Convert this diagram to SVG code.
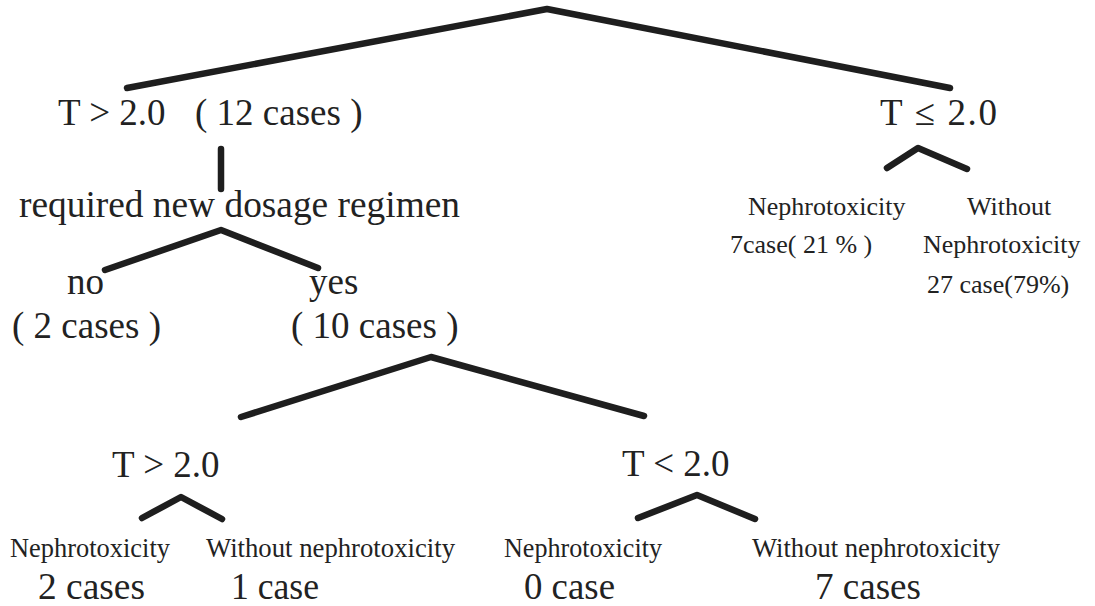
<svg xmlns="http://www.w3.org/2000/svg" width="1095" height="606" viewBox="0 0 1095 606">
  <style>
    .t { font-family: "Liberation Serif", "Times New Roman", serif; fill: #222; }
    .l { font-size: 37px; }
    .s { font-size: 26px; }
    .b { font-size: 28px; }
    .n { font-size: 38px; }
    .c { fill: none; stroke: #1e1e1e; stroke-width: 6.5; stroke-linecap: round; stroke-linejoin: round; }
  </style>
  <rect width="1095" height="606" fill="#ffffff"/>
  <g id="connectors">
    <polyline class="c" points="127,88 547,9 950,88"/>
    <line class="c" x1="221" y1="149" x2="221" y2="189"/>
    <polyline class="c" points="105,270 221,230 318,268"/>
    <polyline class="c" points="241,417 431,357 644,416"/>
    <polyline class="c" points="887,168 918,148 967,169"/>
    <polyline class="c" points="142,518 181,497 222,519"/>
    <polyline class="c" points="638,518 697,495 755,519"/>
  </g>
  <g id="node-t-gt">
    <text class="t l" x="58" y="125">T &gt; 2.0</text>
    <text class="t l" x="195" y="125">( 12 cases )</text>
  </g>
  <g id="node-t-le">
    <text class="t l" x="880" y="125" textLength="117" lengthAdjust="spacing">T ≤ 2.0</text>
  </g>
  <g id="node-right-nephro">
    <text class="t s" x="748" y="215">Nephrotoxicity</text>
    <text class="t s" x="730" y="253">7case( 21 % )</text>
  </g>
  <g id="node-right-without">
    <text class="t s" x="967" y="215">Without</text>
    <text class="t s" x="923" y="253">Nephrotoxicity</text>
    <text class="t s" x="927" y="293">27 case(79%)</text>
  </g>
  <g id="node-regimen">
    <text class="t l" x="19" y="217" textLength="441" lengthAdjust="spacingAndGlyphs">required new dosage regimen</text>
  </g>
  <g id="node-no">
    <text class="t l" x="67" y="294">no</text>
    <text class="t l" x="12" y="338">( 2 cases )</text>
  </g>
  <g id="node-yes">
    <text class="t l" x="309" y="294">yes</text>
    <text class="t l" x="291" y="338">( 10 cases )</text>
  </g>
  <g id="node-sub-gt">
    <text class="t l" x="112" y="477">T &gt; 2.0</text>
  </g>
  <g id="node-sub-lt">
    <text class="t l" x="622" y="476">T &lt; 2.0</text>
  </g>
  <g id="node-leaf-1">
    <text class="t b" x="10" y="557" textLength="160" lengthAdjust="spacingAndGlyphs">Nephrotoxicity</text>
    <text class="t n" x="38" y="599" textLength="107" lengthAdjust="spacingAndGlyphs">2 cases</text>
  </g>
  <g id="node-leaf-2">
    <text class="t b" x="206" y="557" textLength="249" lengthAdjust="spacingAndGlyphs">Without nephrotoxicity</text>
    <text class="t n" x="231" y="599" textLength="88" lengthAdjust="spacingAndGlyphs">1 case</text>
  </g>
  <g id="node-leaf-3">
    <text class="t b" x="504" y="557" textLength="158" lengthAdjust="spacingAndGlyphs">Nephrotoxicity</text>
    <text class="t n" x="524" y="599" textLength="91" lengthAdjust="spacingAndGlyphs">0 case</text>
  </g>
  <g id="node-leaf-4">
    <text class="t b" x="752" y="557" textLength="248" lengthAdjust="spacingAndGlyphs">Without nephrotoxicity</text>
    <text class="t n" x="815" y="599" textLength="106" lengthAdjust="spacingAndGlyphs">7 cases</text>
  </g>
</svg>
